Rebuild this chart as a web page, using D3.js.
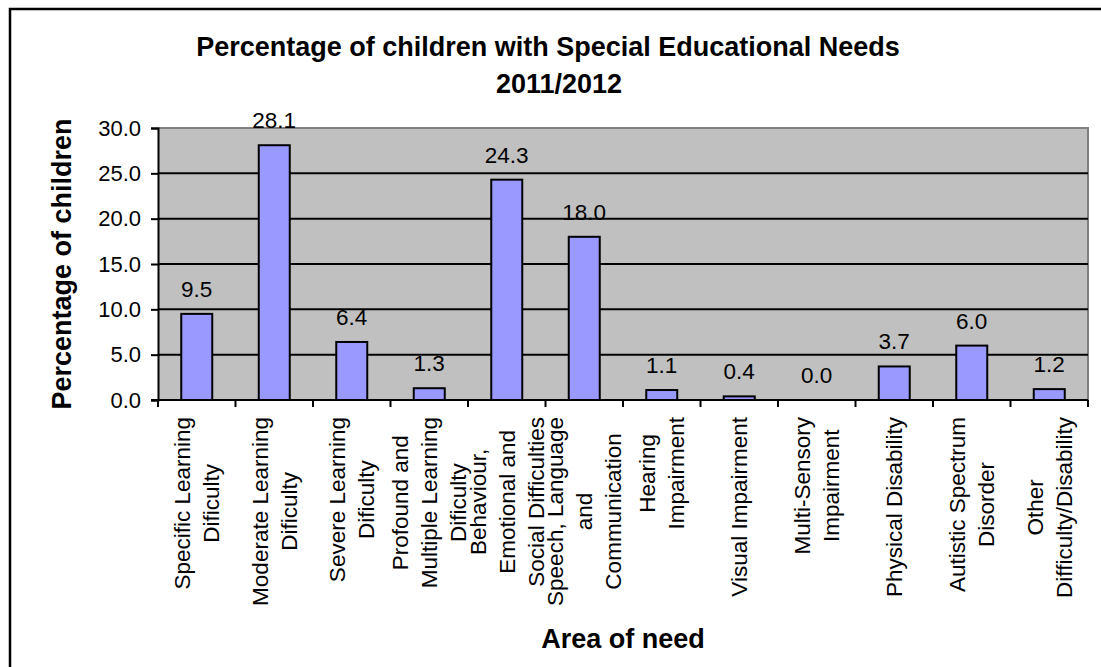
<!DOCTYPE html>
<html>
<head>
<meta charset="utf-8">
<script src="https://cdn.jsdelivr.net/npm/d3@7"></script>
<style>
  html, body { margin: 0; padding: 0; background: #ffffff; }
  svg { display: block; font-family: "Liberation Sans", Arial, sans-serif; }
</style>
</head>
<body>
<svg id="chart" width="1101" height="667"></svg>
<script>
// Areas of need, each split into the lines it is printed on
const categoryLines = [
  ["Specific Learning", "Dificulty"],
  ["Moderate Learning", "Dificulty"],
  ["Severe Learning", "Dificulty"],
  ["Profound and", "Multiple Learning", "Dificulty"],
  ["Behaviour,", "Emotional and", "Social Difficulties"],
  ["Speech, Language", "and", "Communication"],
  ["Hearing", "Impairment"],
  ["Visual Impairment"],
  ["Multi-Sensory", "Impairment"],
  ["Physical Disability"],
  ["Autistic Spectrum", "Disorder"],
  ["Other", "Difficulty/Disability"]
];

// Percentage of children per area of need
const percentages = [9.5, 28.1, 6.4, 1.3, 24.3, 18.0, 1.1, 0.4, 0.0, 3.7, 6.0, 1.2];

// Value axis ticks
const yTicks = [0, 5, 10, 15, 20, 25, 30];

const titleLines = ["Percentage of children with Special Educational Needs", "2011/2012"];
const yTitle = "Percentage of children";
const xTitle = "Area of need";

const svg = d3.select("#chart");

// Outer chart frame (runs off the right and bottom of the page)
svg.append("rect")
  .attr("x", 10).attr("y", 9)
  .attr("width", 1120).attr("height", 700)
  .attr("fill", "#ffffff")
  .attr("stroke", "#000000")
  .attr("stroke-width", 2.5);

const plot = { left: 158, top: 128, right: 1088, bottom: 400 };

const ids = categoryLines.map((_, i) => i);
const x = d3.scaleBand()
  .domain(ids)
  .range([plot.left, plot.right])
  .paddingInner(0.6)
  .paddingOuter(0.3);

const y = d3.scaleLinear()
  .domain([0, 30])
  .range([plot.bottom, plot.top]);

// Plot area background
svg.append("rect")
  .attr("x", plot.left).attr("y", plot.top)
  .attr("width", plot.right - plot.left)
  .attr("height", plot.bottom - plot.top)
  .attr("fill", "#c0c0c0");

// Grey border on top and right of the plot area
svg.append("path")
  .attr("d", `M${plot.left},${plot.top}H${plot.right}V${plot.bottom}`)
  .attr("fill", "none")
  .attr("stroke", "#808080")
  .attr("stroke-width", 2);

// Horizontal gridlines
svg.append("g")
  .selectAll("line")
  .data(yTicks.filter(t => t > 0 && t < 30))
  .join("line")
  .attr("x1", plot.left).attr("x2", plot.right)
  .attr("y1", d => y(d)).attr("y2", d => y(d))
  .attr("stroke", "#000000")
  .attr("stroke-width", 2);

// Bars
svg.append("g")
  .selectAll("rect")
  .data(percentages)
  .join("rect")
  .attr("x", (d, i) => x(i))
  .attr("y", d => y(d))
  .attr("width", x.bandwidth())
  .attr("height", d => y(0) - y(d))
  .attr("fill", "#9999ff")
  .attr("stroke", "#000000")
  .attr("stroke-width", 2);

// Value labels above the bars
svg.append("g")
  .selectAll("text")
  .data(percentages)
  .join("text")
  .attr("x", (d, i) => x(i) + x.bandwidth() / 2)
  .attr("y", d => y(d) - 17)
  .attr("text-anchor", "middle")
  .attr("font-size", 22.5)
  .attr("fill", "#000000")
  .text(d => d.toFixed(1));

// Value axis
const yAxis = d3.axisLeft(y)
  .tickValues(yTicks)
  .tickFormat(d3.format(".1f"))
  .tickSize(7)
  .tickPadding(10);
const gy = svg.append("g")
  .attr("transform", `translate(${plot.left},0)`)
  .call(yAxis);
gy.select(".domain").attr("stroke", "#000000").attr("stroke-width", 2);
gy.selectAll(".tick line").attr("stroke", "#000000").attr("stroke-width", 2);
gy.selectAll(".tick text")
  .attr("font-family", "Liberation Sans, Arial, sans-serif")
  .attr("font-size", 22)
  .attr("fill", "#000000");

// Category axis: line along zero, ticks at category boundaries
const boundaries = d3.range(ids.length + 1).map(i => plot.left + i * x.step());
svg.append("line")
  .attr("x1", plot.left - 7).attr("x2", plot.right)
  .attr("y1", plot.bottom).attr("y2", plot.bottom)
  .attr("stroke", "#000000").attr("stroke-width", 2);
svg.append("g")
  .selectAll("line")
  .data(boundaries)
  .join("line")
  .attr("x1", d => d).attr("x2", d => d)
  .attr("y1", plot.bottom).attr("y2", plot.bottom + 7)
  .attr("stroke", "#000000").attr("stroke-width", 2);

// Rotated, wrapped category labels
const labelTop = 417;
const linePitch = 29;
const labelSize = 22.5;
const labelGroups = svg.append("g")
  .selectAll("g")
  .data(categoryLines)
  .join("g");

labelGroups.each(function (lines, i) {
  const cx = x(i) + x.bandwidth() / 2;
  const g = d3.select(this)
    .attr("transform", `translate(${cx},${labelTop}) rotate(-90)`);
  const texts = g.selectAll("text")
    .data(lines)
    .join("text")
    .attr("text-anchor", "middle")
    .attr("font-size", labelSize)
    .attr("fill", "#000000")
    .attr("dy", "0.35em")
    .attr("y", (d, k) => (k - (lines.length - 1) / 2) * linePitch)
    .text(d => d);
  let maxLen = 0;
  texts.each(function () { maxLen = Math.max(maxLen, this.getComputedTextLength()); });
  texts.attr("x", -maxLen / 2);
});

// Chart title
const titleX = [548, 559];
svg.append("g")
  .selectAll("text")
  .data(titleLines)
  .join("text")
  .attr("x", (d, i) => titleX[i])
  .attr("y", (d, i) => 56 + i * 37)
  .attr("text-anchor", "middle")
  .attr("font-size", 27)
  .attr("font-weight", "bold")
  .attr("fill", "#000000")
  .text(d => d);

// Axis titles
svg.append("text")
  .attr("transform", `translate(71,${(plot.top + plot.bottom) / 2}) rotate(-90)`)
  .attr("text-anchor", "middle")
  .attr("font-size", 27)
  .attr("font-weight", "bold")
  .attr("fill", "#000000")
  .text(yTitle);

svg.append("text")
  .attr("x", (plot.left + plot.right) / 2)
  .attr("y", 648)
  .attr("text-anchor", "middle")
  .attr("font-size", 27)
  .attr("font-weight", "bold")
  .attr("fill", "#000000")
  .text(xTitle);
</script>
</body>
</html>
